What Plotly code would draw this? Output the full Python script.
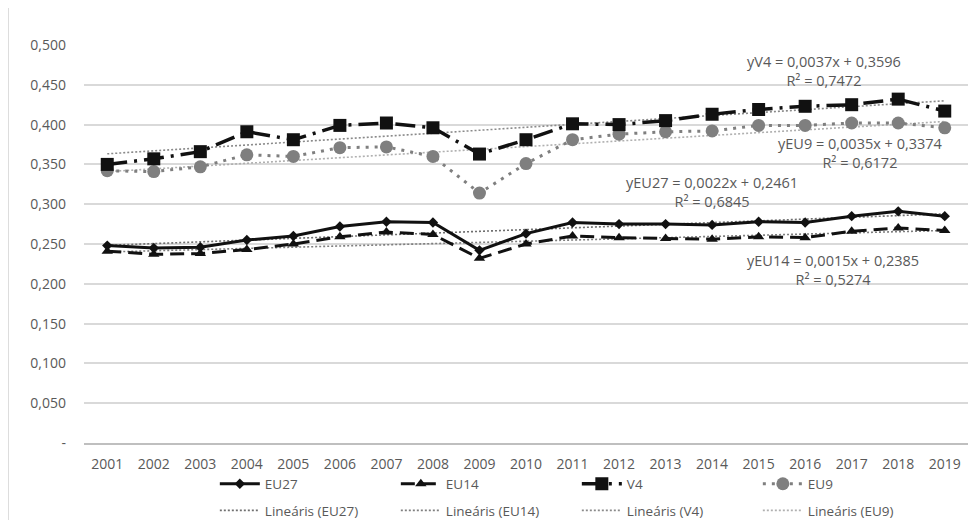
import plotly.graph_objects as go

years = [str(y) for y in range(2001, 2020)]

eu27 = [0.248, 0.245, 0.246, 0.255, 0.260, 0.272, 0.278, 0.277, 0.242, 0.263,
        0.277, 0.275, 0.275, 0.274, 0.278, 0.277, 0.285, 0.291, 0.285]
eu14 = [0.241, 0.237, 0.238, 0.243, 0.250, 0.259, 0.265, 0.262, 0.232, 0.250,
        0.260, 0.258, 0.257, 0.256, 0.259, 0.258, 0.266, 0.270, 0.267]
v4 = [0.350, 0.357, 0.366, 0.391, 0.381, 0.399, 0.402, 0.396, 0.363, 0.381,
      0.401, 0.400, 0.405, 0.413, 0.419, 0.423, 0.425, 0.432, 0.417]
eu9 = [0.342, 0.341, 0.347, 0.362, 0.360, 0.371, 0.372, 0.360, 0.314, 0.351,
       0.381, 0.388, 0.391, 0.392, 0.399, 0.399, 0.402, 0.402, 0.396]

# trendline coefficients (slope, intercept) as printed on the chart
trend_eu27 = [0.0022, 0.2461]
trend_eu14 = [0.0015, 0.2385]
trend_v4 = [0.0037, 0.3596]
trend_eu9 = [0.0035, 0.3374]

r2_eu27 = "0,6845"
r2_eu14 = "0,5274"
r2_v4 = "0,7472"
r2_eu9 = "0,6172"

y_tickvals = [0, 0.05, 0.1, 0.15, 0.2, 0.25, 0.3, 0.35, 0.4, 0.45, 0.5]
y_ticktext = ["-", "0,050", "0,100", "0,150", "0,200", "0,250", "0,300",
              "0,350", "0,400", "0,450", "0,500"]

FONT = "Open Sans"
TXT = "#595959"
FS = 14

def trend(coef):
    return [coef[0] * (i + 1) + coef[1] for i in range(len(years))]

fig = go.Figure()

# trendlines (drawn beneath)
trend_specs = [
    ("Lineáris (EU27)", trend_eu27, "#6f6f6f", 5),
    ("Lineáris (EU14)", trend_eu14, "#7f7f7f", 6),
    ("Lineáris (V4)", trend_v4, "#8a8a8a", 7),
    ("Lineáris (EU9)", trend_eu9, "#b0b0b0", 8),
]
for name, coef, col, rank in trend_specs:
    fig.add_trace(go.Scatter(
        x=years, y=trend(coef), name=name, mode="lines",
        line=dict(color=col, width=1.6, dash="2px,2px"),
        legend="legend2", legendrank=rank, hoverinfo="skip"))

fig.add_trace(go.Scatter(
    x=years, y=eu9, name="EU9", mode="lines+markers",
    line=dict(color="#7f7f7f", width=3, dash="3px,6px"),
    marker=dict(symbol="circle", size=13, color="#7f7f7f"),
    legend="legend", legendrank=4))
fig.add_trace(go.Scatter(
    x=years, y=v4, name="V4", mode="lines+markers",
    line=dict(color="#111111", width=3.5, dash="20px,7px,3px,7px"),
    marker=dict(symbol="square", size=13, color="#111111"),
    legend="legend", legendrank=3))
fig.add_trace(go.Scatter(
    x=years, y=eu14, name="EU14", mode="lines+markers",
    line=dict(color="#111111", width=3, dash="14px,7px"),
    marker=dict(symbol="triangle-up", size=10, color="#111111"),
    legend="legend", legendrank=2))
fig.add_trace(go.Scatter(
    x=years, y=eu27, name="EU27", mode="lines+markers",
    line=dict(color="#111111", width=3),
    marker=dict(symbol="diamond", size=8, color="#111111"),
    legend="legend", legendrank=1))

def eq(label, coef, r2):
    a = f"{coef[0]:.4f}".replace(".", ",")
    b = f"{coef[1]:.4f}".replace(".", ",")
    return f"y{label} = {a}x + {b}<br>R² = {r2}"

ann = [
    (15.4, 0.467, eq("V4", trend_v4, r2_v4)),
    (16.2, 0.364, eq("EU9", trend_eu9, r2_eu9)),
    (13.0, 0.315, eq("EU27", trend_eu27, r2_eu27)),
    (15.6, 0.217, eq("EU14", trend_eu14, r2_eu14)),
]
for x, y, t in ann:
    fig.add_annotation(x=x, y=y, xref="x", yref="y", text=t, showarrow=False,
                       font=dict(family=FONT, size=14.5, color=TXT), align="center")

fig.add_shape(type="line", xref="paper", yref="paper", x0=-0.086, x1=-0.086,
              y0=-0.25, y1=1.12, line=dict(color="#d0d0d0", width=1.5))

leg_common = dict(orientation="h", xanchor="left", yanchor="top",
                  entrywidth=126, font=dict(family=FONT, size=13.5, color=TXT),
                  itemwidth=40, bgcolor="rgba(0,0,0,0)")

fig.update_layout(
    width=976, height=520,
    margin=dict(l=76, r=16, t=37, b=85, autoexpand=False),
    paper_bgcolor="white", plot_bgcolor="white",
    font=dict(family=FONT, size=FS, color=TXT),
    showlegend=True,
    legend=dict(x=0.148, y=-0.064, **leg_common),
    legend2=dict(x=0.148, y=-0.131, **leg_common),
    xaxis=dict(type="category", range=[-0.5, len(years) - 0.5],
               showgrid=False, showline=True, linecolor="#bfbfbf",
               linewidth=1.5, ticks="", ticklabelstandoff=7,
               tickfont=dict(size=FS, color=TXT), automargin=False),
    yaxis=dict(range=[0, 0.5], tickvals=y_tickvals, ticktext=y_ticktext,
               showgrid=True, gridcolor="#d9d9d9", gridwidth=1.5, zeroline=False,
               showline=False, ticks="", ticklabelstandoff=17, automargin=False,
               tickfont=dict(size=FS, color=TXT)),
)

fig.write_html("out.html")
